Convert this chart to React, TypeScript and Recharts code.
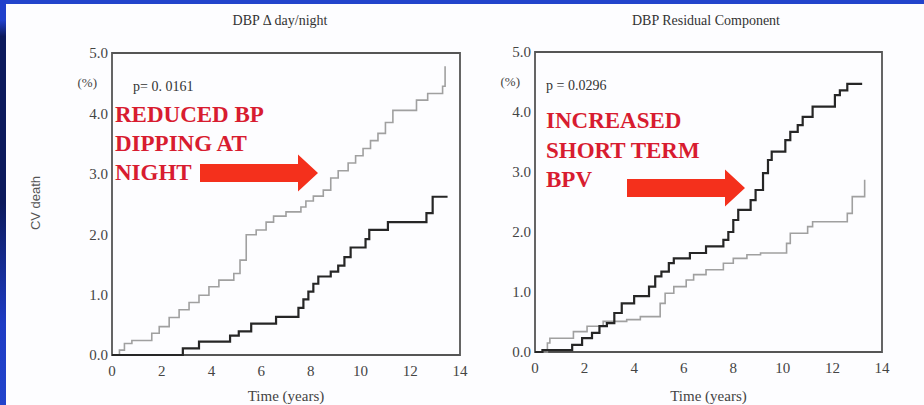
import { LineChart, Line, XAxis, YAxis, ReferenceArea } from 'recharts'

// DBP day/night panel: reduced dipping (grey) vs normal dipping (black)
const DIP_REDUCED_T = [0, 0.3, 0.5, 0.8, 1.6, 1.9, 2.3, 2.7, 3.1, 3.5, 3.9, 4.3, 4.9, 5.15, 5.4, 5.8, 6.2, 6.5, 7.0, 7.6, 7.8, 8.1, 8.5, 8.8, 9.1, 9.5, 9.8, 10.1, 10.4, 10.7, 11.0, 11.3, 12.25, 12.7, 13.3, 13.4]
const DIP_REDUCED_V = [0, 0.08, 0.19, 0.24, 0.36, 0.47, 0.62, 0.75, 0.87, 0.99, 1.13, 1.24, 1.35, 1.57, 1.99, 2.07, 2.2, 2.3, 2.37, 2.45, 2.55, 2.63, 2.73, 2.93, 3.05, 3.18, 3.3, 3.42, 3.55, 3.67, 3.85, 4.05, 4.22, 4.33, 4.45, 4.78]
const DIP_NORMAL_T = [0, 2.85, 3.5, 4.75, 5.1, 5.6, 6.6, 7.5, 7.7, 7.9, 8.1, 8.3, 8.8, 9.1, 9.35, 9.6, 10.2, 10.35, 11.1, 12.65, 12.9, 13.5]
const DIP_NORMAL_V = [0, 0.11, 0.22, 0.32, 0.39, 0.52, 0.63, 0.78, 0.92, 1.05, 1.18, 1.3, 1.38, 1.48, 1.62, 1.78, 1.92, 2.07, 2.2, 2.35, 2.62, 2.62]

// DBP residual panel: high short-term BPV (black) vs low (grey)
const RES_HIGH_T = [0, 0.3, 1.5, 1.9, 2.3, 2.6, 2.9, 3.2, 3.5, 4.0, 4.6, 4.85, 5.1, 5.4, 5.6, 6.25, 6.9, 7.6, 7.8, 8.0, 8.2, 8.7, 8.9, 9.2, 9.4, 9.55, 10.1, 10.3, 10.6, 10.8, 11.2, 12.1, 12.3, 12.6, 13.2]
const RES_HIGH_V = [0, 0.03, 0.12, 0.23, 0.32, 0.43, 0.48, 0.65, 0.81, 0.93, 1.09, 1.26, 1.34, 1.48, 1.56, 1.65, 1.76, 1.87, 2.0, 2.2, 2.37, 2.53, 2.7, 2.98, 3.2, 3.34, 3.53, 3.67, 3.78, 3.92, 4.09, 4.28, 4.36, 4.47, 4.47]
const RES_LOW_T = [0, 0.5, 0.6, 1.55, 2.1, 2.75, 3.7, 4.25, 5.05, 5.25, 5.6, 6.1, 6.4, 6.9, 7.6, 8.0, 8.55, 9.1, 10.15, 10.3, 11.0, 11.2, 12.6, 12.8, 13.3]
const RES_LOW_V = [0, 0.15, 0.23, 0.34, 0.43, 0.51, 0.54, 0.59, 0.81, 0.98, 1.09, 1.2, 1.29, 1.37, 1.48, 1.56, 1.62, 1.65, 1.81, 1.98, 2.09, 2.17, 2.31, 2.59, 2.87]

const X_TICKS = [0, 2, 4, 6, 8, 10, 12, 14]
const Y_TICKS = [0, 1, 2, 3, 4, 5]

const TITLES = ['DBP Δ day/night', 'DBP Residual Component']
const P_VALUES = ['p= 0. 0161', 'p = 0.0296']
const CALLOUT_LEFT = ['REDUCED BP', 'DIPPING AT', 'NIGHT']
const CALLOUT_RIGHT = ['INCREASED', 'SHORT TERM', 'BPV']

const toPoints = (ts: number[], vs: number[]) => ts.map((t, i) => ({ t, v: vs[i] }))

const SERIF = '"Liberation Serif", "DejaVu Serif", serif'
const tickStyle = { fill: '#444', fontSize: 15, fontFamily: SERIF }

interface PanelProps {
  left: number
  width: number
  margin: { top: number; right: number; bottom: number; left: number }
  xHeight: number
  grey: { t: number; v: number }[]
  black: { t: number; v: number }[]
}

function Panel({ left, width, margin, xHeight, grey, black }: PanelProps) {
  return (
    <div style={{ position: 'absolute', left, top: 0 }}>
      <LineChart width={width} height={405} margin={margin}>
        <XAxis
          dataKey="t"
          type="number"
          domain={[0, 14]}
          ticks={X_TICKS}
          allowDataOverflow
          axisLine={false}
          tickLine={false}
          tickSize={6}
          tickMargin={4}
          tick={tickStyle}
          height={xHeight}
          label={{ value: 'Time (years)', position: 'insideBottom', offset: 4, fill: '#444', fontSize: 15, fontFamily: SERIF }}
        />
        <YAxis
          type="number"
          domain={[0, 5]}
          ticks={Y_TICKS}
          tickFormatter={(v: number) => v.toFixed(1)}
          axisLine={false}
          tickLine={false}
          tickSize={2}
          tickMargin={2}
          tick={tickStyle}
          width={40}
        />
        <ReferenceArea x1={0} x2={14} y1={0} y2={5} fill="none" stroke="#555" strokeWidth={1.8} />
        <Line data={grey} dataKey="v" type="stepAfter" stroke="#a0a0a0" strokeWidth={1.6} dot={false} isAnimationActive={false} />
        <Line data={black} dataKey="v" type="stepAfter" stroke="#262626" strokeWidth={2.2} dot={false} isAnimationActive={false} />
      </LineChart>
    </div>
  )
}

function Arrow({ x0, head, tip, cy }: { x0: number; head: number; tip: number; cy: number }) {
  const s = 9
  const h = 18.5
  const pts = [
    [x0, cy - s], [head, cy - s], [head, cy - h], [tip, cy], [head, cy + h], [head, cy + s], [x0, cy + s],
  ].map((p) => p.join(',')).join(' ')
  return <polygon points={pts} fill="#f4301c" />
}

export default function App() {
  const red = '#d81c30'
  return (
    <div style={{ position: 'fixed', left: 0, top: 0, width: 924, height: 405, background: '#fdfdff', overflow: 'hidden' }}>
      <Panel
        left={0}
        width={470}
        margin={{ top: 53, right: 10, bottom: 0, left: 72 }}
        xHeight={50}
        grey={toPoints(DIP_REDUCED_T, DIP_REDUCED_V)}
        black={toPoints(DIP_NORMAL_T, DIP_NORMAL_V)}
      />
      <Panel
        left={462}
        width={462}
        margin={{ top: 52, right: 42, bottom: 0, left: 33 }}
        xHeight={53}
        grey={toPoints(RES_LOW_T, RES_LOW_V)}
        black={toPoints(RES_HIGH_T, RES_HIGH_V)}
      />
      <svg width={924} height={405} style={{ position: 'absolute', left: 0, top: 0, pointerEvents: 'none' }}>
        <defs>
          <linearGradient id="edge" x1="0" y1="0" x2="0" y2="1">
            <stop offset="0" stopColor="#2040cc" />
            <stop offset="0.05" stopColor="#2040cc" />
            <stop offset="0.09" stopColor="#0c1a5c" />
            <stop offset="0.5" stopColor="#0c1a5c" />
            <stop offset="0.8" stopColor="#1e3cc4" />
            <stop offset="1" stopColor="#2244cc" />
          </linearGradient>
        </defs>
        <rect x={0} y={0} width={924} height={4} fill="#2244cc" />
        <rect x={0} y={0} width={6} height={405} fill="url(#edge)" />

        <text x={280} y={25} textAnchor="middle" fontSize={14} fontFamily={SERIF} fill="#333">{TITLES[0]}</text>
        <text x={706} y={25} textAnchor="middle" fontSize={14} fontFamily={SERIF} fill="#333">{TITLES[1]}</text>

        <text x={97} y={87} textAnchor="end" fontSize={13} fontFamily={SERIF} fill="#444">(%)</text>
        <text x={520} y={86} textAnchor="end" fontSize={13} fontFamily={SERIF} fill="#444">(%)</text>
        <text
          x={35}
          y={203}
          textAnchor="middle"
          dominantBaseline="central"
          transform="rotate(-90 35 203)"
          fontSize={13}
          fontFamily='"Liberation Sans", Arial, sans-serif'
          fill="#555"
        >
          CV death
        </text>

        <text x={133} y={91} fontSize={14} fontFamily={SERIF} fill="#333">{P_VALUES[0]}</text>
        <text x={546} y={90} fontSize={14} fontFamily={SERIF} fill="#333">{P_VALUES[1]}</text>

        {CALLOUT_LEFT.map((s, i) => (
          <text key={s} x={115} y={122 + i * 29} fontSize={23} fontWeight="bold" fontFamily={SERIF} fill={red}>{s}</text>
        ))}
        {CALLOUT_RIGHT.map((s, i) => (
          <text key={s} x={546} y={128 + i * 29.5} fontSize={23} fontWeight="bold" fontFamily={SERIF} fill={red}>{s}</text>
        ))}
        <Arrow x0={200} head={298} tip={318} cy={173} />
        <Arrow x0={627} head={725} tip={745} cy={188} />
      </svg>
    </div>
  )
}
